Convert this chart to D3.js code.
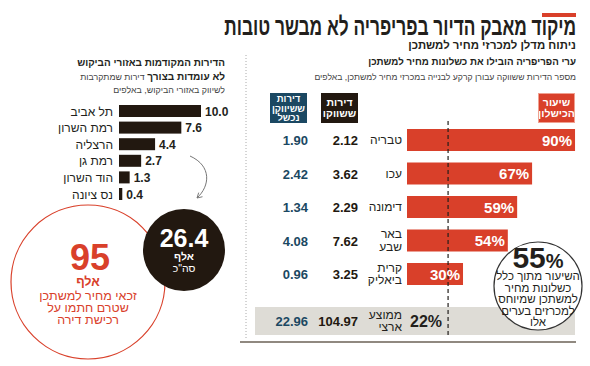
<!DOCTYPE html>
<html>
<head>
<meta charset="utf-8">
<script src="https://cdn.jsdelivr.net/npm/d3@7"></script>
<style>
  body { margin: 0; background: #fff; }
  svg text { font-family: "Liberation Sans", "DejaVu Sans", sans-serif; }
</style>
</head>
<body>
<div id="chart"></div>
<script>
// left panel: demand areas, thousands of units
const demandCities = ["תל אביב", "רמת השרון", "הרצליה", "רמת גן", "הוד השרון", "נס ציונה"];
const demandValues = [10.0, 7.6, 4.4, 2.7, 1.3, 0.4];

// right panel: periphery cities
const peripheryCities = [["טבריה"], ["עכו"], ["דימונה"], ["באר", "שבע"], ["קרית", "ביאליק"]];
const failRate = [90, 67, 59, 54, 30];
const marketed = ["2.12", "3.62", "2.29", "7.62", "3.25"];
const failedUnits = ["1.90", "2.42", "1.34", "4.08", "0.96"];
const avgLabel = ["ממוצע", "ארצי"];
const avgRate = 22;
const avgMarketed = "104.97";
const avgFailed = "22.96";

const RED = "#d9402a", TEAL = "#1b4862", DARK = "#221810", INK = "#231f1c";

const W = 590, H = 366;
const svg = d3.select("#chart").append("svg").attr("width", W).attr("height", H);

// shrink font until the text fits the given width
function fit(sel, w){
  sel.each(function(){
    const len = this.getComputedTextLength();
    if(len > w){
      const t = d3.select(this);
      const k = w / len;
      t.attr("font-size", +t.attr("font-size") * k);
      t.selectAll("tspan").each(function(){
        const s = d3.select(this);
        if(s.attr("font-size")) s.attr("font-size", +s.attr("font-size") * k);
      });
    }
  });
  return sel;
}
function txt(x, y, s, size, opts = {}){
  const t = svg.append("text").attr("x", x).attr("y", y).text(s)
    .attr("font-size", size).attr("text-anchor", opts.anchor || "end")
    .attr("font-weight", opts.bold ? "bold" : "normal").attr("fill", opts.fill || INK);
  if(opts.w) fit(t, opts.w);
  return t;
}

// header
svg.append("rect").attr("x", 542).attr("y", 13).attr("width", 34).attr("height", 4).attr("fill", RED);
// title is condensed: squeeze horizontally instead of shrinking
const title = svg.append("text").attr("x", 0).attr("y", 0).attr("text-anchor", "end")
  .attr("font-size", 25.5).attr("font-weight", "bold").attr("fill", INK)
  .text("מיקוד מאבק הדיור בפריפריה לא מבשר טובות");
const tk = Math.min(1, 352 / title.node().getComputedTextLength());
title.attr("transform", `translate(576,35) scale(${tk},1)`);

txt(576, 49, "ניתוח מדלן למכרזי מחיר למשתכן", 12.5, { bold: true, w: 168 });
txt(576, 65, "ערי הפריפריה הובילו את כשלונות מחיר למשתכן", 12, { bold: true, w: 208 });
txt(576, 80, "מספר הדירות ששווקה עבורן קרקע לבנייה במכרזי מחיר למשתכן, באלפים", 10.5, { fill: "#444", w: 262 });

// left heading
txt(225, 66, "הדירות המקודמות באזורי הביקוש", 12, { bold: true, w: 148 });
const l2 = svg.append("text").attr("x", 225).attr("y", 80).attr("text-anchor", "end").attr("fill", INK)
  .attr("font-size", 12);
l2.append("tspan").attr("font-size", 12).attr("font-weight", "bold").text("לא עומדות בצורך ");
l2.append("tspan").attr("font-size", 10.5).attr("fill", "#444").text("דירות שמתקרבות");
fit(l2, 145);
txt(225, 93, "לשיווק באזורי הביקוש, באלפים", 10.5, { fill: "#444", w: 112 });

// separator
svg.append("line").attr("x1", 246).attr("x2", 246).attr("y1", 55).attr("y2", 338)
  .attr("stroke", "#aaa").attr("stroke-dasharray", "1,2");

// left bars
const xL = d3.scaleLinear().domain([0, 10]).range([119, 201]);
const yL = d3.scalePoint().domain(demandCities).range([111, 194]);
const lbh = 12;
svg.selectAll(".lbar").data(demandValues).join("rect")
  .attr("x", xL(0)).attr("y", (d, i) => yL(demandCities[i]) - lbh / 2)
  .attr("width", d => xL(d) - xL(0)).attr("height", lbh).attr("fill", DARK);
svg.selectAll(".lval").data(demandValues).join("text")
  .attr("x", d => xL(d) + 4).attr("y", (d, i) => yL(demandCities[i]) + 4.5)
  .attr("font-size", 12).attr("font-weight", "bold").attr("fill", INK)
  .text(d => d.toFixed(1));
svg.selectAll(".lcat").data(demandCities).join("text")
  .attr("x", 113).attr("y", d => yL(d) + 4.5).attr("text-anchor", "end")
  .attr("font-size", 12).attr("fill", INK).text(d => d);

// arrow
svg.append("defs").append("marker").attr("id", "ah").attr("viewBox", "0 0 10 10")
  .attr("refX", 8).attr("refY", 5).attr("markerWidth", 7).attr("markerHeight", 7).attr("orient", "auto")
  .append("path").attr("d", "M1,1 L8,5 L1,9").attr("fill", "none").attr("stroke", "#777").attr("stroke-width", 1.3);
svg.append("path").attr("d", "M190,156 C212,166 210,186 197,198")
  .attr("fill", "none").attr("stroke", "#777").attr("stroke-width", 1).attr("marker-end", "url(#ah)");

// red circle (eligible)
svg.append("circle").attr("cx", 88).attr("cy", 282).attr("r", 77)
  .attr("fill", "#fff").attr("stroke", RED).attr("stroke-width", 1.2);
txt(90, 270, "95", 36, { bold: true, anchor: "middle", fill: RED });
txt(88, 286, "אלף", 12.5, { bold: true, anchor: "middle", fill: RED });
["זכאי מחיר למשתכן", "שטרם חתמו על", "רכישת דירה"].forEach((s, i) =>
  txt(88, 300 + i * 12, s, 12.5, { anchor: "middle", fill: RED }));

// black circle (total)
svg.append("circle").attr("cx", 184).attr("cy", 250).attr("r", 41).attr("fill", DARK);
txt(184, 247, "26.4", 25, { bold: true, anchor: "middle", fill: "#fff" });
txt(184, 260, "אלף", 10.5, { bold: true, anchor: "middle", fill: "#fff" });
txt(184, 272, "סה\"כ", 10.5, { anchor: "middle", fill: "#fff" });

// right panel
const xR = d3.scaleLinear().domain([0, 100]).range([407, 593.7]);
const yR = d3.scalePoint().domain(d3.range(peripheryCities.length)).range([140, 274]);
const avgY = 321;
const colFailed = 308, colMarketed = 358, colCity = 402;

// column headers
function headBox(x, w, fill, lines){
  svg.append("rect").attr("x", x).attr("y", 93).attr("width", w).attr("height", 30).attr("fill", fill);
  const step = lines.length === 3 ? 9.5 : 11.5;
  const y0 = 108 - (lines.length - 1) * step / 2 + 3.5;
  lines.forEach((s, i) => txt(x + w / 2, y0 + i * step, s, lines.length === 3 ? 9.5 : 10.5,
    { bold: true, anchor: "middle", fill: "#fff" }));
}
headBox(270, 37, TEAL, ["דירות", "ששיווקן", "נכשל"]);
headBox(321, 37, DARK, ["דירות", "ששווקו"]);
headBox(538, 37, RED, ["שיעור", "הכישלון"]);
svg.append("rect").attr("x", 538.5).attr("y", 93.5).attr("width", 36).attr("height", 29)
  .attr("fill", "none").attr("stroke", "#f0a090").attr("stroke-width", 1);

// average band
svg.append("rect").attr("x", 255).attr("y", 307).attr("width", 320).attr("height", 28).attr("fill", "#dedcd6");

// red bars
const rbh = 22;
svg.selectAll(".rbar").data(failRate).join("rect")
  .attr("x", xR(0)).attr("y", (d, i) => yR(i) - rbh / 2)
  .attr("width", d => xR(d) - xR(0)).attr("height", rbh).attr("fill", RED);

// national average line
svg.append("line").attr("x1", xR(avgRate)).attr("x2", xR(avgRate)).attr("y1", 121).attr("y2", 336)
  .attr("stroke", INK).attr("stroke-width", 1.2).attr("stroke-dasharray", "4,3");

svg.selectAll(".rpct").data(failRate).join("text")
  .attr("x", d => xR(d) - 3).attr("y", (d, i) => yR(i) + 5.5).attr("text-anchor", "end")
  .attr("font-size", 15).attr("font-weight", "bold").attr("fill", "#fff").text(d => d + "%");

peripheryCities.forEach((lines, i) => {
  const y = yR(i);
  lines.forEach((s, j) => txt(colCity, y + 4 + (j - (lines.length - 1) / 2) * 12.5, s, 12));
  txt(colMarketed, y + 5, marketed[i], 13, { bold: true, fill: DARK });
  txt(colFailed, y + 5, failedUnits[i], 13, { bold: true, fill: TEAL });
});
avgLabel.forEach((s, j) => txt(colCity, avgY + 4 + (j - 0.5) * 12.5, s, 12));
txt(colMarketed, avgY + 5, avgMarketed, 13, { bold: true, fill: DARK });
txt(colFailed, avgY + 5, avgFailed, 13, { bold: true, fill: TEAL });
txt(xR(avgRate) - 6, avgY + 6, avgRate + "%", 16, { bold: true, fill: INK });

// 55% callout
svg.append("circle").attr("cx", 538).attr("cy", 286).attr("r", 44)
  .attr("fill", "#fff").attr("stroke", "#333").attr("stroke-width", 1.2);
const big = svg.append("text").attr("x", 538).attr("y", 268).attr("text-anchor", "middle").attr("fill", INK)
  .attr("font-weight", "bold");
big.append("tspan").attr("font-size", 30).text("55");
big.append("tspan").attr("font-size", 20).text("%");
["השיעור מתוך כלל", "כשלונות מחיר", "למשתכן שמיוחס", "למכרזים בערים", "אלו"].forEach((s, i) =>
  txt(538, 280 + i * 11.5, s, 11.5, { anchor: "middle" }));

// bottom rule
svg.append("line").attr("x1", 240).attr("x2", 576).attr("y1", 342).attr("y2", 342)
  .attr("stroke", "#6b6256").attr("stroke-width", 1.5);
</script>
</body>
</html>
